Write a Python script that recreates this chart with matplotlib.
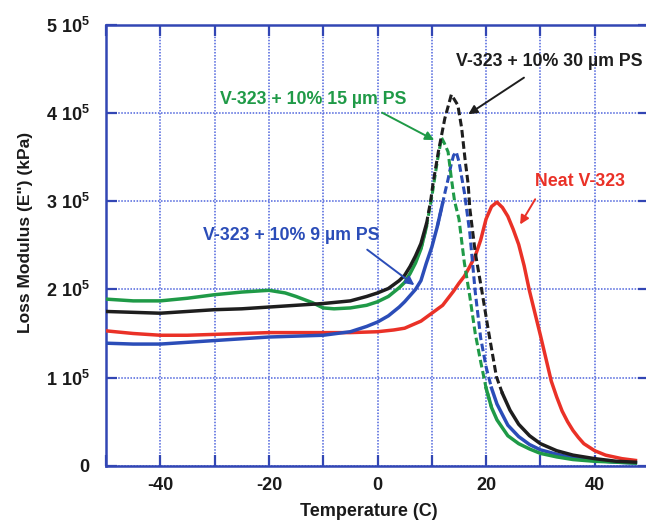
import numpy as np
import matplotlib
matplotlib.use("Agg")
from matplotlib import pyplot as plt

plt.rcParams["font.family"] = ["Liberation Sans", "DejaVu Sans"]
plt.rcParams["font.weight"] = "bold"
plt.rcParams["mathtext.fontset"] = "custom"
plt.rcParams["mathtext.rm"] = "Liberation Sans:bold"
plt.rcParams["mathtext.it"] = "Liberation Sans:bold"
plt.rcParams["mathtext.bf"] = "Liberation Sans:bold"

SCALE = 1e5  # loss modulus values below are in units of 10^5 kPa

# Neat V-323
neat_t = [-50, -45, -40, -35, -30, -25, -20, -15, -10, -5, 0, 3, 5, 8, 10, 12, 14, 15, 16, 17,
          18, 19, 20, 21, 22, 23, 24, 25, 26, 27, 28, 29, 30, 31, 32, 33, 34, 35, 36, 37,
          38, 40, 42, 45, 47.5]
neat_e = [1.53, 1.50, 1.48, 1.48, 1.49, 1.50, 1.51, 1.51, 1.51, 1.51, 1.52, 1.54, 1.56, 1.64, 1.73, 1.82, 1.98, 2.07, 2.15, 2.26,
          2.38, 2.56, 2.80, 2.94, 2.99, 2.93, 2.83, 2.68, 2.51, 2.27, 1.98, 1.73, 1.48, 1.22, 0.96, 0.78, 0.62, 0.50, 0.40, 0.32,
          0.25, 0.17, 0.12, 0.08, 0.06]

# V-323 + 10% 9 um PS
ps9_t = [-50, -45, -40, -35, -30, -25, -20, -15, -10, -5, -2, 0, 2, 4, 5, 6, 7, 8, 9, 10,
         11, 12, 12.5, 13, 13.5, 14, 14.5, 15, 16, 17, 18, 19, 20, 21, 22, 24, 26, 28, 30, 33,
         36, 40, 44, 47.5]
ps9_e = [1.39, 1.38, 1.38, 1.40, 1.42, 1.44, 1.46, 1.47, 1.48, 1.52, 1.58, 1.63, 1.70, 1.80, 1.86, 1.93, 2.00, 2.10, 2.30, 2.48,
         2.71, 2.98, 3.12, 3.25, 3.40, 3.52, 3.56, 3.45, 3.10, 2.64, 1.97, 1.45, 1.12, 0.88, 0.70, 0.46, 0.33, 0.24, 0.18, 0.13,
         0.09, 0.06, 0.04, 0.03]

# V-323 + 10% 15 um PS
ps15_t = [-50, -45, -40, -35, -30, -25, -20, -17, -15, -12, -10, -8, -5, -2, 0, 2, 4, 5, 6, 7,
          8, 9, 10, 10.5, 11, 11.5, 11.8, 12.3, 13, 13.6, 14.2, 15, 16, 17, 18, 19, 20, 21, 22, 24,
          26, 28, 30, 33, 36, 40, 44, 47.5]
ps15_e = [1.89, 1.87, 1.87, 1.90, 1.94, 1.97, 1.99, 1.96, 1.92, 1.85, 1.79, 1.78, 1.79, 1.82, 1.86, 1.92, 2.02, 2.08, 2.18, 2.30,
          2.46, 2.71, 3.05, 3.25, 3.45, 3.62, 3.72, 3.66, 3.56, 3.26, 3.00, 2.80, 2.30, 1.92, 1.50, 1.18, 0.88, 0.66, 0.52, 0.34,
          0.25, 0.19, 0.14, 0.10, 0.07, 0.05, 0.04, 0.03]

# V-323 + 10% 30 um PS
ps30_t = [-50, -45, -40, -35, -30, -25, -20, -15, -10, -5, -2, 0, 2, 4, 5, 6, 7, 8, 9, 9.8,
          10.2, 11.2, 12.4, 13.6, 14.8, 15.5, 16.1, 16.7, 17, 18, 19.2, 20.4, 21.9, 23, 24.4, 26, 28, 30, 33, 36,
          40, 44, 47.5]
ps30_e = [1.75, 1.74, 1.73, 1.75, 1.77, 1.78, 1.80, 1.82, 1.84, 1.87, 1.92, 1.96, 2.01, 2.10, 2.16, 2.26, 2.38, 2.52, 2.74, 3.01,
          3.19, 3.56, 3.94, 4.21, 4.09, 3.83, 3.49, 3.19, 2.92, 2.42, 1.99, 1.54, 1.01, 0.82, 0.63, 0.47, 0.34, 0.25, 0.17, 0.12,
          0.08, 0.05, 0.04]

x_ticks = [-40, -20, 0, 20, 40]
y_ticks = [0, 1, 2, 3, 4, 5]

spine_blue = "#3246b4"
grid_blue = "#4d63dc"

series = [
    # t, e, colour, dashed range (sparse points near the peak)
    (neat_t, neat_e, "#ea3127", None),
    (ps9_t, ps9_e, "#2b4db8", (12.0, 20.5)),
    (ps15_t, ps15_e, "#1f9a47", (9.0, 20.0)),
    (ps30_t, ps30_e, "#1e1e1e", (9.5, 22.5)),
]

fig = plt.figure(figsize=(6.46, 5.24), dpi=100)
ax = fig.add_axes([106 / 646, 58.3 / 524, 543 / 646, 440.7 / 524])

for t, e, color, dash in series:
    t = np.asarray(t, dtype=float)
    e = np.asarray(e, dtype=float) * SCALE
    if dash is None:
        ax.plot(t, e, color=color, lw=2.5, zorder=3)
        continue
    lo, hi = dash
    left = t <= lo
    mid = (t >= lo) & (t <= hi)
    right = t >= hi
    # extend masks by one point so the pieces join up
    i0 = np.where(mid)[0]
    mid[max(i0[0] - 1, 0)] = True
    mid[min(i0[-1] + 1, len(t) - 1)] = True
    ax.plot(t[left], e[left], color=color, lw=2.5, zorder=3)
    ax.plot(t[mid], e[mid], color=color, lw=2.2, ls=(0, (2.5, 1.2)), zorder=3)
    ax.plot(t[right], e[right], color=color, lw=2.5, zorder=3)

ax.set_xlim(-50, 50)
ax.set_ylim(0, 5 * SCALE)
ax.set_xticks(np.arange(-50, 51, 10))
ax.set_xticklabels([str(v) if v in x_ticks else "" for v in range(-50, 51, 10)])
ax.set_yticks([v * SCALE for v in y_ticks])
ax.set_yticklabels(["0" if v == 0 else f"{v} 10$^{{5}}$" for v in y_ticks])

ax.grid(True, color=grid_blue, ls=(0, (1, 1)), lw=1.1)
for s in ax.spines.values():
    s.set_color(spine_blue)
    s.set_linewidth(1.8)
ax.tick_params(direction="in", length=8, width=1.6, color=spine_blue,
               top=True, right=True, labelsize=13, labelcolor="#1a1a1a")
ax.tick_params(axis="x", pad=8)
ax.tick_params(axis="y", pad=12)
for lab in ax.get_xticklabels() + ax.get_yticklabels():
    lab.set_fontweight("bold")

ax.set_xlabel("Temperature (C)", fontsize=13, fontweight="bold", color="#1a1a1a")
ax.xaxis.set_label_coords(0.484, -0.085)
ax.set_ylabel('Loss Modulus (E") (kPa)', fontsize=12.5, fontweight="bold", color="#1a1a1a")
ax.yaxis.set_label_coords(-0.134, 0.53)

notes = [
    ("V-323 + 10% 30 µm PS", "#1e1e1e", (14.4, 4.59), (27.4, 4.42), (16.3, 3.97)),
    ("V-323 + 10% 15 µm PS", "#1f9a47", (-29.0, 4.16), (0.4, 4.02), (10.9, 3.68)),
    ("V-323 + 10% 9 µm PS", "#2b4db8", (-32.2, 2.61), (-2.3, 2.47), (7.2, 2.03)),
    ("Neat V-323", "#ea3127", (29.0, 3.22), (29.3, 3.05), (26.0, 2.71)),
]
for text, color, pos, start, tip in notes:
    ax.text(pos[0], pos[1] * SCALE, text, color=color, fontsize=12.8, fontweight="bold",
            ha="left", va="center", zorder=5)
    ax.annotate("", xy=(tip[0], tip[1] * SCALE), xytext=(start[0], start[1] * SCALE),
                arrowprops=dict(arrowstyle="-|>", color=color, lw=1.4, mutation_scale=13),
                zorder=5)

plt.savefig("out.png", dpi=100)
